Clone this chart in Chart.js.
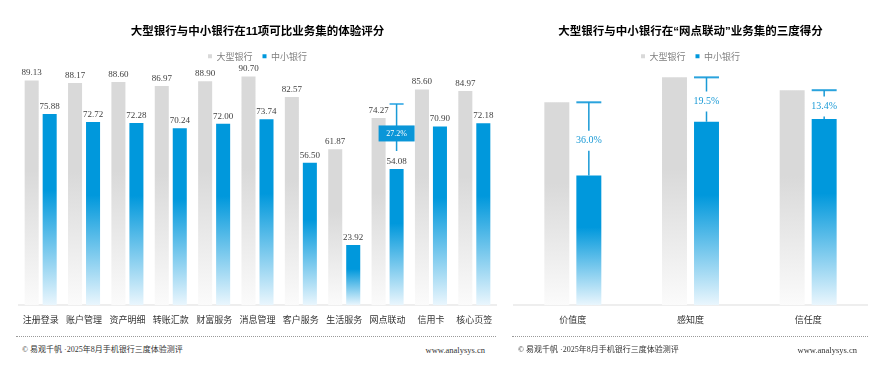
<!DOCTYPE html>
<html>
<head>
<meta charset="utf-8">
<script src="https://cdn.jsdelivr.net/npm/chart.js@4"></script>
<style>
  body { margin: 0; background: #fff; width: 894px; height: 373px; position: relative; overflow: hidden; font-family: "Noto Sans CJK SC", sans-serif; }
  canvas { position: absolute; top: 0; }
  #left { left: 0; }
  #right { left: 480px; }
  .foot { position: absolute; top: 336px; height: 30px; border-top: 1px dotted #9a9a9a; color: #333; }
  .foot .src { position: absolute; left: 6px; top: 6px; font-size: 8px; font-family: "Liberation Serif", "Noto Sans CJK SC", serif; }
  .foot .url { position: absolute; right: 11px; top: 8px; font-size: 8.5px; font-family: "Liberation Serif", serif; }
</style>
</head>
<body>
<canvas id="left" width="508" height="336"></canvas>
<canvas id="right" width="414" height="336"></canvas>
<div class="foot" style="left:16px;width:480px"><span class="src">© 易观千帆 ·2025年8月手机银行三度体验测评</span><span class="url">www.analysys.cn</span></div>
<div class="foot" style="left:512px;width:356px"><span class="src">© 易观千帆 ·2025年8月手机银行三度体验测评</span><span class="url">www.analysys.cn</span></div>
<script>
const seriesNames = ["大型银行", "中小银行"];

const businessSets = ["注册登录", "账户管理", "资产明细", "转账汇款", "财富服务", "消息管理", "客户服务", "生活服务", "网点联动", "信用卡", "核心页签"];
const largeScores = [89.13, 88.17, 88.60, 86.97, 88.90, 90.70, 82.57, 61.87, 74.27, 85.60, 84.97];
const smallScores = [75.88, 72.72, 72.28, 70.24, 72.00, 73.74, 56.50, 23.92, 54.08, 70.90, 72.18];

// 网点联动 three degrees (values not printed in the source)
const degrees = ["价值度", "感知度", "信任度"];
const largeDegree = [80.5, 90.4, 85.3];
const smallDegree = [51.5, 72.8, 73.9];

const Y_MAX = 93;
const FONT = "Noto Sans CJK SC";

function fade(top, bottom) {
  return (ctx) => {
    const chart = ctx.chart;
    const y = chart.scales.y;
    if (!chart.chartArea || !y || typeof ctx.raw !== "number") return top;
    const y0 = y.getPixelForValue(ctx.raw);
    const y1 = y.getPixelForValue(0);
    const g = chart.ctx.createLinearGradient(0, y0, 0, y1);
    g.addColorStop(0, top);
    g.addColorStop(0.4, top);
    g.addColorStop(1, bottom);
    return g;
  };
}

const decor = {
  id: "decor",
  afterDatasetsDraw(chart, args, o) {
    const c = chart.ctx;
    const yS = chart.scales.y;
    const ds = chart.data.datasets;
    const sm = chart.getDatasetMeta(1).data;
    c.save();
    if (o.values) {
      c.font = '9px "Liberation Serif"';
      c.fillStyle = "#404040";
      c.textAlign = "center";
      c.textBaseline = "bottom";
      ds.forEach((d, di) => {
        chart.getDatasetMeta(di).data.forEach((bar, i) => {
          c.fillText(d.data[i].toFixed(2), bar.x, bar.y - 3);
        });
      });
    }
    o.gaps.forEach((i) => {
      const L = ds[0].data[i];
      const S = ds[1].data[i];
      const txt = ((L - S) / L * 100).toFixed(1) + "%";
      const b = sm[i];
      const capY = yS.getPixelForValue(L) - o.lift;
      const endY = b.y - o.drop;
      const midY = (capY + endY) / 2 + o.shift;
      c.strokeStyle = o.capColor;
      c.lineWidth = 2;
      c.beginPath();
      c.moveTo(b.x - b.width / 2, capY);
      c.lineTo(b.x + b.width / 2, capY);
      c.stroke();
      c.strokeStyle = o.color;
      c.lineWidth = 1.5;
      c.beginPath();
      c.moveTo(b.x, capY);
      c.lineTo(b.x, midY - o.gapH);
      c.moveTo(b.x, midY + o.gapH);
      c.lineTo(b.x, endY);
      c.stroke();
      c.textAlign = "center";
      c.textBaseline = "middle";
      if (o.boxed) {
        c.fillStyle = "#0a96d8";
        c.fillRect(b.x - 18, midY - 8, 36, 16);
        c.fillStyle = "#ffffff";
        c.font = '8px "Liberation Serif"';
      } else {
        c.fillStyle = o.color;
        c.font = '10px "Liberation Serif"';
      }
      c.fillText(txt, b.x, midY);
    });
    c.restore();
  },
};

function makeChart(id, title, labels, large, small, pad, catPct, decorOpts) {
  return new Chart(document.getElementById(id), {
    type: "bar",
    data: {
      labels,
      datasets: [
        { label: seriesNames[0], data: large, backgroundColor: fade("#d9d9d9", "#fbfbfb") },
        { label: seriesNames[1], data: small, backgroundColor: fade("#0098dc", "#eaf6fd") },
      ],
    },
    options: {
      responsive: false,
      animation: false,
      categoryPercentage: catPct,
      barPercentage: 0.78,
      layout: { padding: { left: pad[0], right: pad[1], top: 15, bottom: 2 } },
      plugins: {
        title: {
          display: true,
          text: title,
          color: "#000",
          font: { family: '"Liberation Sans", "Noto Sans CJK SC"', size: 11.5, weight: "bold" },
          padding: { top: 10, bottom: 3 },
        },
        legend: {
          labels: { boxWidth: 4, boxHeight: 4, color: "#808080", font: { family: FONT, size: 9 }, padding: 10 },
        },
        tooltip: { enabled: false },
        decor: decorOpts,
      },
      scales: {
        x: {
          grid: { display: false, drawTicks: false },
          border: { color: "#eeeeee", width: 2 },
          ticks: { color: "#333", font: { family: FONT, size: 9 }, padding: 9, maxRotation: 0, autoSkip: false },
        },
        y: { display: false, min: 0, max: Y_MAX },
      },
    },
    plugins: [decor],
  });
}

makeChart("left", "大型银行与中小银行在11项可比业务集的体验评分", businessSets, largeScores, smallScores, [19, 12], 0.83,
  { values: true, gaps: [8], lift: 14, drop: 18, shift: 6, gapH: 0, boxed: true, color: "#1a9ad6", capColor: "#5ab9ea" });

makeChart("right", "大型银行与中小银行在“网点联动”业务集的三度得分", degrees, largeDegree, smallDegree, [34, 27], 0.544,
  { values: false, gaps: [0, 1, 2], lift: 0, drop: 0, shift: 2, gapH: 10, boxed: false, color: "#1a9ad6", capColor: "#2aa3dd" });
</script>
</body>
</html>
